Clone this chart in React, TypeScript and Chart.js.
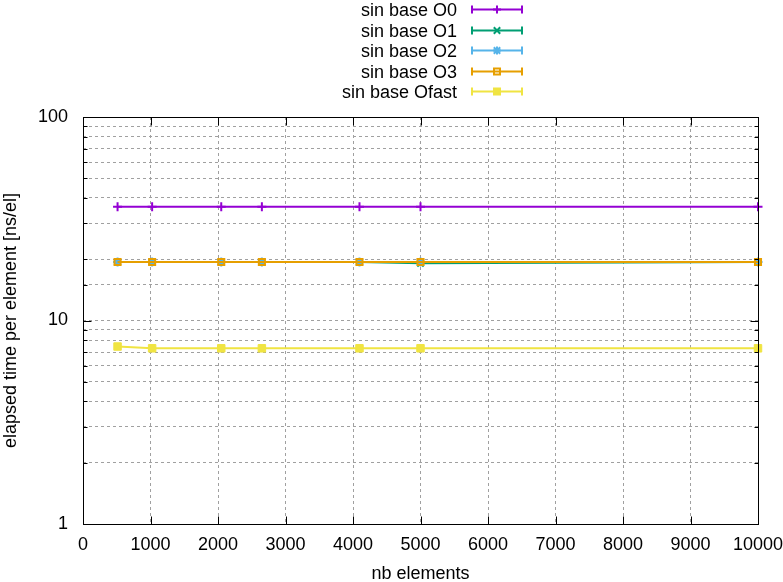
import React, { useEffect, useRef } from 'react';
import { Chart, registerables } from 'chart.js';

Chart.register(...registerables);

// ---- data ----
const nbElements = [512, 1024, 2048, 2650, 4096, 5000, 10000];
const seriesNames = ['sin base O0', 'sin base O1', 'sin base O2', 'sin base O3', 'sin base Ofast'];
const valuesO0 = [36.2, 36.2, 36.2, 36.2, 36.2, 36.2, 36.2];
const valuesO1 = [19.4, 19.4, 19.4, 19.4, 19.4, 19.1, 19.4];
const valuesO2 = [19.4, 19.4, 19.4, 19.4, 19.4, 19.4, 19.4];
const valuesO3 = [19.4, 19.4, 19.4, 19.4, 19.4, 19.4, 19.4];
const valuesOfast = [7.45, 7.3, 7.3, 7.3, 7.3, 7.3, 7.3];
const yTickLabels = [1, 10, 100];
const xMin = 0;
const xMax = 10000;
const xStep = 1000;
const xTitle = 'nb elements';
const yTitle = 'elapsed time per element [ns/el]';

// ---- styles ----
const colors = ['#9400d3', '#009e73', '#56b4e9', '#e69f00', '#f0e442'];
const markers = ['cross', 'crossRot', 'star', 'rect', 'rectFilled'];
const FONT = '18px "Liberation Sans", Arial, sans-serif';

const allValues = [valuesO0, valuesO1, valuesO2, valuesO3, valuesOfast];

function drawMarker(ctx: CanvasRenderingContext2D, style: string, x: number, y: number, color: string) {
  ctx.save();
  ctx.strokeStyle = color;
  ctx.fillStyle = color;
  ctx.lineWidth = 2;
  const r = 4;
  ctx.beginPath();
  if (style === 'cross') {
    ctx.moveTo(x, y - r); ctx.lineTo(x, y + r);
    ctx.moveTo(x - r, y); ctx.lineTo(x + r, y);
    ctx.stroke();
  } else if (style === 'crossRot') {
    const d = r * 0.8;
    ctx.moveTo(x - d, y - d); ctx.lineTo(x + d, y + d);
    ctx.moveTo(x - d, y + d); ctx.lineTo(x + d, y - d);
    ctx.stroke();
  } else if (style === 'star') {
    const d = r * 0.8;
    ctx.moveTo(x, y - r); ctx.lineTo(x, y + r);
    ctx.moveTo(x - r, y); ctx.lineTo(x + r, y);
    ctx.moveTo(x - d, y - d); ctx.lineTo(x + d, y + d);
    ctx.moveTo(x - d, y + d); ctx.lineTo(x + d, y - d);
    ctx.stroke();
  } else if (style === 'rect') {
    ctx.strokeRect(x - 3, y - 3, 6, 6);
  } else {
    ctx.fillRect(x - 4, y - 4, 8, 8);
  }
  ctx.restore();
}

const gnuPlugin = {
  id: 'gnuFrame',
  afterDraw(chart: any) {
    const { ctx, chartArea: a, scales } = chart;
    ctx.save();
    // frame + ticks
    ctx.strokeStyle = '#000';
    ctx.lineWidth = 1;
    const L = Math.round(a.left) + 0.5;
    const R = Math.round(a.right) + 0.5;
    const T = Math.round(a.top) + 0.5;
    const B = Math.round(a.bottom) + 0.5;
    ctx.beginPath();
    const ys = scales.y;
    ys.ticks.forEach((t: any) => {
      const py = Math.round(ys.getPixelForValue(t.value)) + 0.5;
      const lg = Math.log10(t.value);
      const len = Math.abs(lg - Math.round(lg)) < 1e-9 ? 8 : 4;
      ctx.moveTo(L, py); ctx.lineTo(L + len, py);
      ctx.moveTo(R, py); ctx.lineTo(R - len, py);
    });
    const xs = scales.x;
    xs.ticks.forEach((t: any) => {
      const px = Math.round(xs.getPixelForValue(t.value)) + 0.5;
      ctx.moveTo(px, B); ctx.lineTo(px, B - 8);
      ctx.moveTo(px, T); ctx.lineTo(px, T + 8);
    });
    ctx.stroke();
    ctx.strokeRect(L, T, R - L, B - T);

    // titles
    ctx.fillStyle = '#000';
    ctx.font = FONT;
    ctx.textAlign = 'center';
    ctx.textBaseline = 'alphabetic';
    ctx.fillText(xTitle, (a.left + a.right) / 2, 579);
    ctx.save();
    ctx.translate(15.5, (a.top + a.bottom) / 2);
    ctx.rotate(-Math.PI / 2);
    ctx.fillText(yTitle, 0, 0);
    ctx.restore();

    // legend
    seriesNames.forEach((name, i) => {
      const ly = Math.round(9 + i * 20.5) + 0.5;
      ctx.fillStyle = '#000';
      ctx.textAlign = 'right';
      ctx.fillText(name, 457, ly + 6.5);
      ctx.strokeStyle = colors[i];
      ctx.lineWidth = 2;
      ctx.beginPath();
      ctx.moveTo(472, ly); ctx.lineTo(522, ly);
      ctx.moveTo(472, ly - 4); ctx.lineTo(472, ly + 4);
      ctx.moveTo(522, ly - 4); ctx.lineTo(522, ly + 4);
      ctx.stroke();
      drawMarker(ctx, markers[i], 497, ly, colors[i]);
    });
    ctx.restore();
  },
};

export default function App() {
  const ref = useRef<HTMLCanvasElement>(null);
  useEffect(() => {
    if (!ref.current) return;
    const datasets = allValues.map((vals, i) => {
      const m = markers[i];
      const pointStyle = m === 'rectFilled' ? 'rect' : m;
      return {
        label: seriesNames[i],
        data: nbElements.map((x, j) => ({ x, y: vals[j] })),
        borderColor: colors[i],
        backgroundColor: m === 'rect' ? 'rgba(0,0,0,0)' : colors[i],
        borderWidth: 2,
        pointStyle,
        pointRadius: m === 'rectFilled' ? 5.3 : m === 'rect' ? 4.3 : 4.5,
        pointBorderWidth: m === 'rectFilled' ? 1 : 2,
        pointBorderColor: colors[i],
        pointBackgroundColor: m === 'rect' ? 'rgba(0,0,0,0)' : colors[i],
        tension: 0,
        fill: false,
        clip: false as any,
        order: 5 - i,
      };
    });
    const chart = new Chart(ref.current, {
      type: 'line',
      data: { datasets: datasets as any },
      options: {
        animation: false,
        responsive: false,
        devicePixelRatio: 1,
        layout: { padding: { top: 117, right: 25, left: 0, bottom: 0 } },
        plugins: { legend: { display: false }, tooltip: { enabled: false } },
        scales: {
          x: {
            type: 'linear',
            min: xMin,
            max: xMax,
            ticks: {
              stepSize: xStep,
              autoSkip: false,
              maxRotation: 0,
              padding: 10,
              color: '#000',
              font: { family: '"Liberation Sans", Arial, sans-serif', size: 18 },
              callback: (v: any) => String(v),
            },
            grid: { color: '#a0a0a0', lineWidth: 1, drawTicks: false },
            border: { display: false, dash: [3, 3] },
            afterFit: (s: any) => { s.height = 58; s.paddingLeft = 0; s.paddingRight = 0; },
          },
          y: {
            type: 'logarithmic',
            min: 1,
            max: 100,
            ticks: {
              autoSkip: false,
              padding: 15,
              color: '#000',
              font: { family: '"Liberation Sans", Arial, sans-serif', size: 18 },
              callback: (v: any) => (yTickLabels.includes(Number(v)) ? String(v) : ''),
            },
            grid: { color: '#a0a0a0', lineWidth: 1, drawTicks: false },
            border: { display: false, dash: [3, 3] },
            afterFit: (s: any) => { s.width = 83; s.paddingTop = 0; s.paddingBottom = 0; },
          },
        },
      },
      plugins: [gnuPlugin],
    });
    return () => chart.destroy();
  }, []);
  return (
    <div style={{ position: 'absolute', left: 0, top: 0, width: 783, height: 582, background: '#fff' }}>
      <canvas ref={ref} width={783} height={582} />
    </div>
  );
}
